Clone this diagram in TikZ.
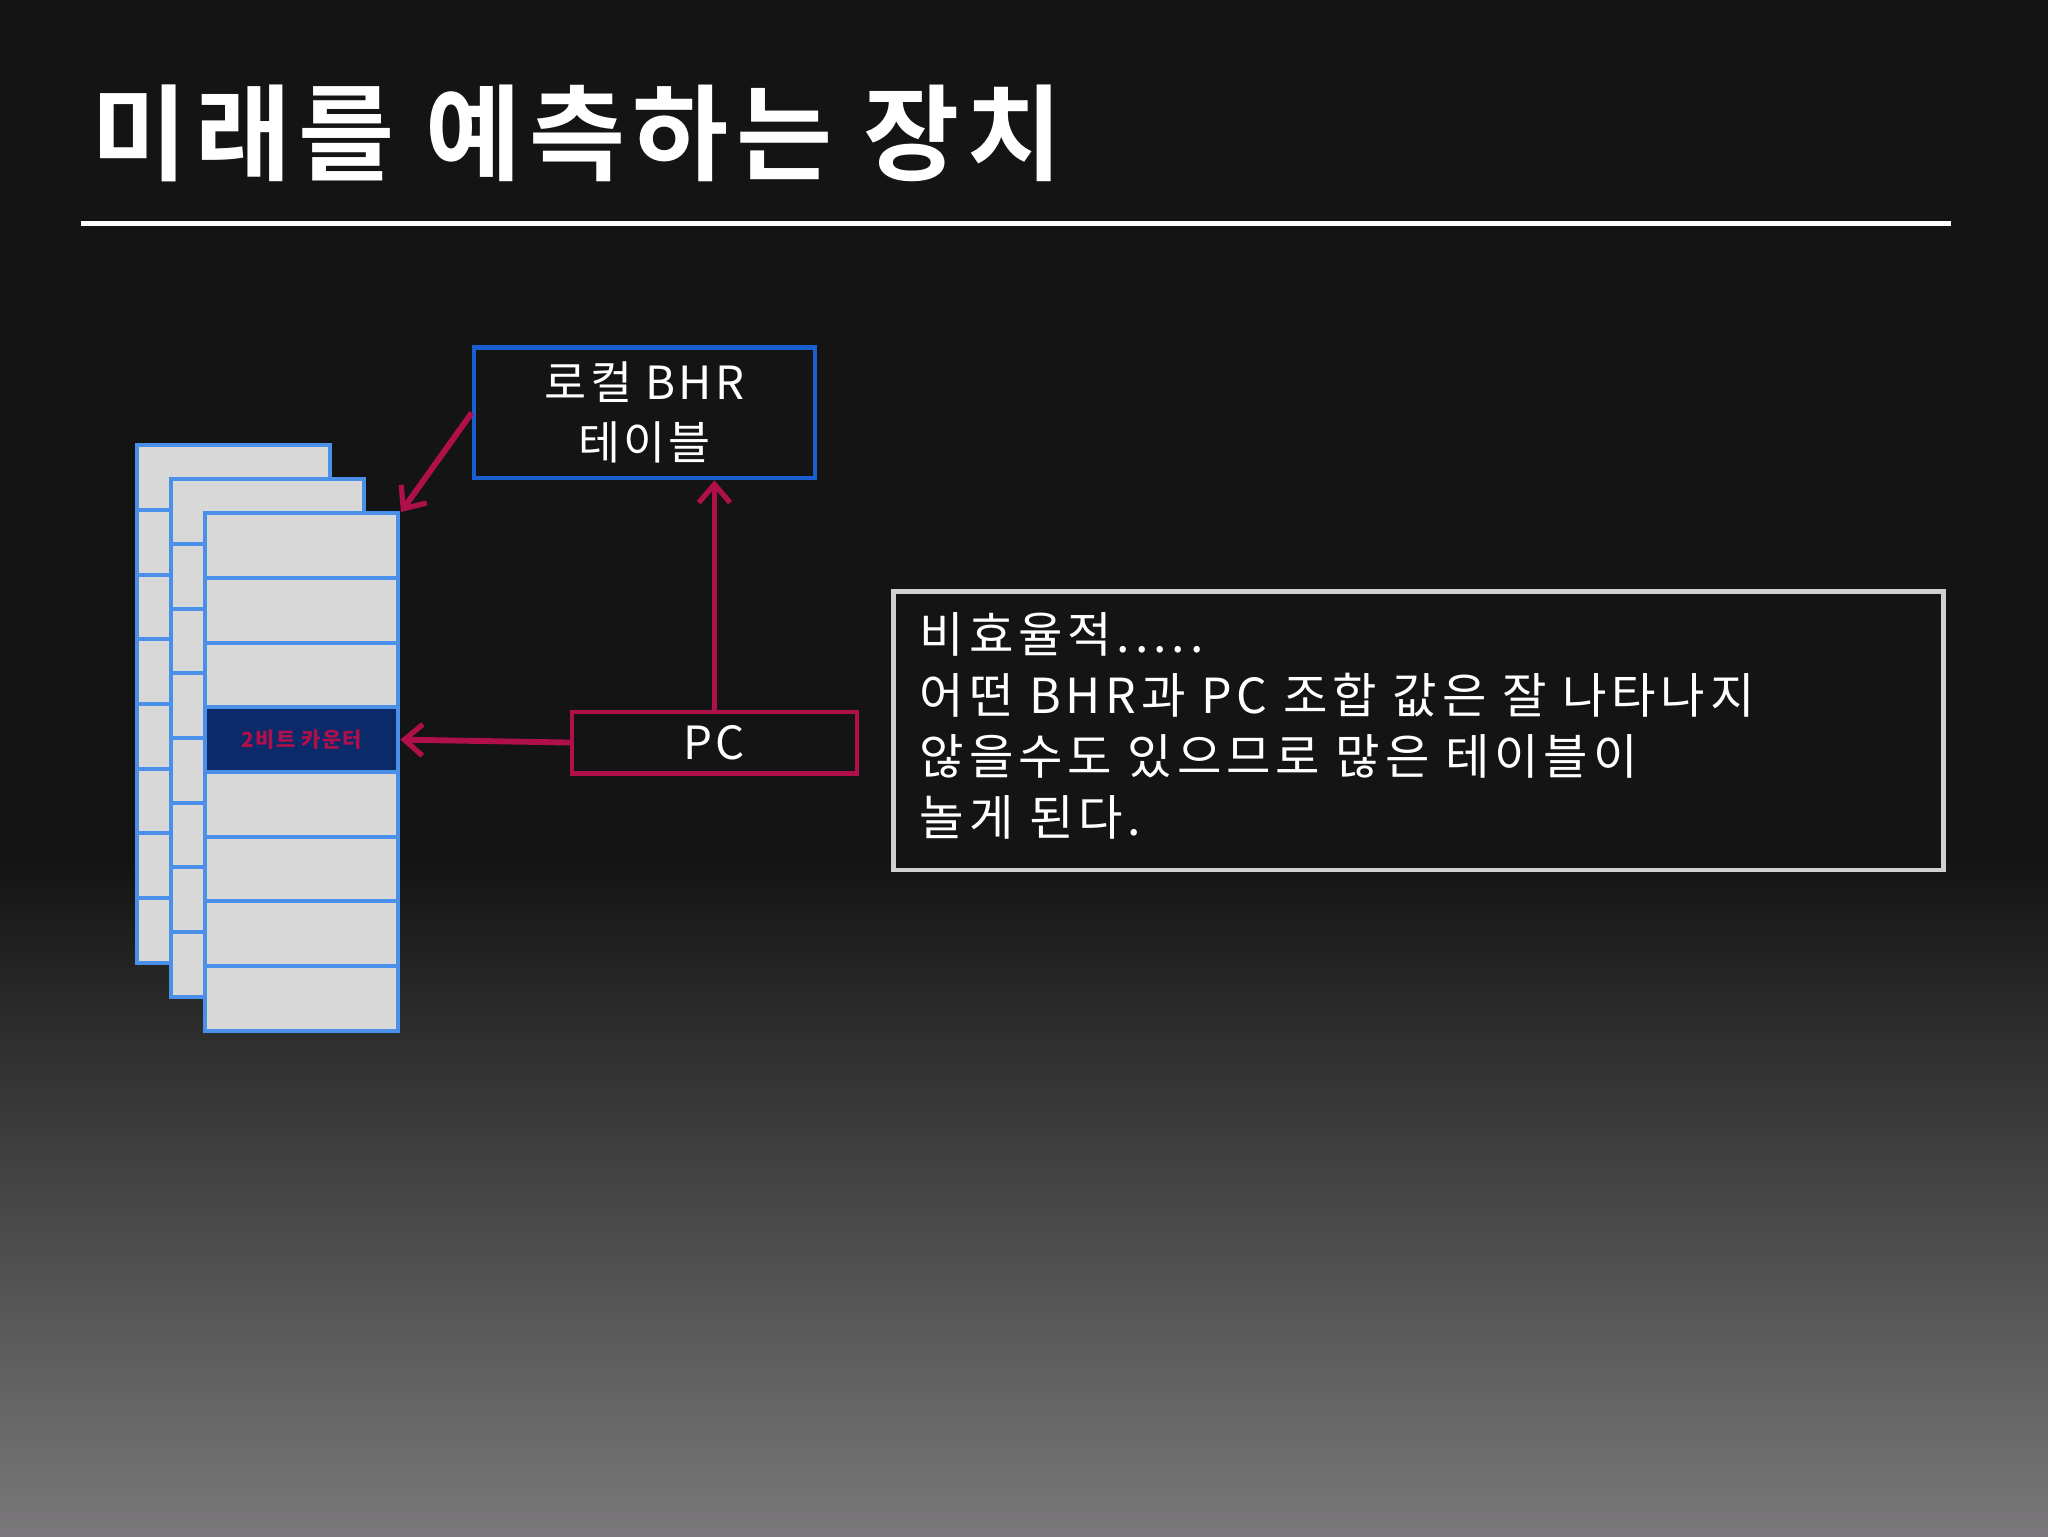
\documentclass[tikz,border=0pt]{standalone}
\usepackage{fontspec}
\setmainfont[LetterSpace=7]{Noto Sans CJK KR}
\newfontfamily\notefont[LetterSpace=10]{Noto Sans CJK KR}
\newfontfamily\titlefont[LetterSpace=7]{Noto Sans CJK KR Bold}
\usetikzlibrary{arrows.meta}
\definecolor{bgtop}{HTML}{141414}
\definecolor{bgbot}{HTML}{7A787A}
\definecolor{cellfill}{HTML}{D8D8D8}
\definecolor{cellline}{HTML}{4A90E8}
\definecolor{navy}{HTML}{0A2A6A}
\definecolor{crim}{HTML}{B0104A}
\definecolor{bhrblue}{HTML}{1A5FD0}
\definecolor{boxgrey}{HTML}{D0D0D0}
\tikzset{
 cell/.style={draw=cellline,fill=cellfill,line width=3pt},
 conn/.style={draw=crim,line width=4.5pt,-{Straight Barb[length=14pt,width=24pt,line width=4pt]}},
 txt/.style={text=white,font=\fontsize{35}{46}\selectfont,align=center}
}
\begin{document}
\begin{tikzpicture}[x=1pt,y=-1pt]
\useasboundingbox (0,0) rectangle (1568,1176);
\fill[bgtop] (0,0) rectangle (1568,660);
\shade[top color=bgtop,bottom color=bgbot] (0,659) rectangle (1568,1176);
\node[anchor=west,text=white,inner sep=0,font=\titlefont\fontsize{80}{90}\selectfont] (title) at (70,102) {미래를 예측하는 장치};
\draw[white,line width=4pt] (62,171) -- (1494,171);
% stacked tables
\foreach \dx/\dy in {0/0,26/26,52/52}{
  \foreach \i in {0,...,7}{
    \draw[cell] (105+\dx,341+\dy+\i*49.5) rectangle (253+\dx,341+\dy+\i*49.5+49.5);
  }
}
\node[draw=cellline,fill=navy,line width=3pt,minimum width=148pt,minimum height=49.5pt,inner sep=0,text=crim,font=\bfseries\fontsize{16}{18}\selectfont] (cnt) at (231,566.25) {2비트 카운터};
\coordinate (corner) at (307,392);
\node[draw=bhrblue,line width=3.5pt,minimum width=261pt,minimum height=100pt,inner sep=0,txt] (bhr) at (493.5,316) {로컬 BHR\\테이블};
\node[draw=crim,line width=3.5pt,minimum width=218pt,minimum height=47pt,inner sep=0,txt] (pc) at (547,568.5) {PC};
\draw[conn] (bhr.west) -- (corner);
\draw[conn] (pc.north) -- (bhr.south -| pc.north);
\draw[conn] (pc.west) -- (cnt.east);
\node[draw=boxgrey,line width=3.5pt,minimum width=804pt,minimum height=213pt,inner sep=0] (note) at (1086,559.5) {};
\node[anchor=north west,text=white,align=left,inner sep=0,font=\notefont\fontsize{37}{46.5}\selectfont] (notetxt) at (704,469) {비효율적.....\\어떤 BHR과 PC 조합 값은 잘 나타나지\\않을수도 있으므로 많은 테이블이\\놀게 된다.};
\end{tikzpicture}
\end{document}
